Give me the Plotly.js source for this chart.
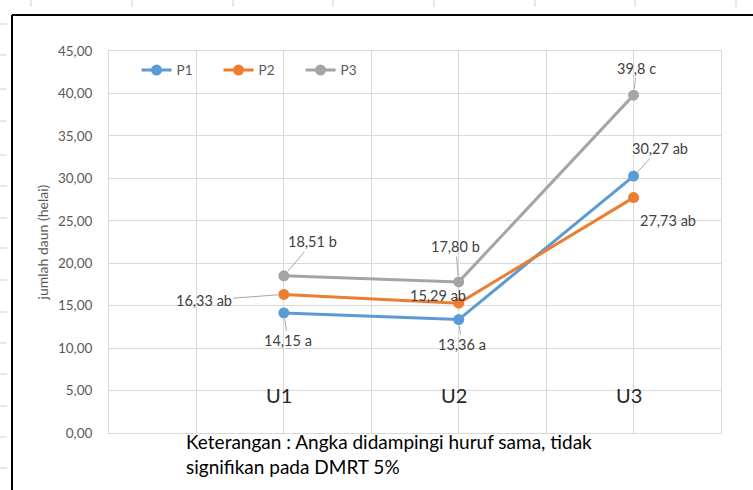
<!DOCTYPE html>
<html>
<head>
<meta charset="utf-8">
<script src="https://cdn.plot.ly/plotly-3.0.1.min.js"></script>
<style>html,body{margin:0;padding:0;background:#fff;}#chart{width:753px;height:490px;}</style>
</head>
<body>
<div id="chart"></div>
<script>
// ---- data ----
const categories = ["U1", "U2", "U3"];
const categoryPos = [2, 4, 6];
const seriesNames = ["P1", "P2", "P3"];
const p1Values = [14.15, 13.36, 30.27];
const p2Values = [16.33, 15.29, 27.73];
const p3Values = [18.51, 17.80, 39.8];
const p1Labels = ["14,15 a", "13,36 a", "30,27 ab"];
const p2Labels = ["16,33 ab", "15,29 ab", "27,73 ab"];
const p3Labels = ["18,51 b", "17,80 b", "39,8 c"];
const yTicks = [0, 5, 10, 15, 20, 25, 30, 35, 40, 45];
const noteText = "Keterangan : Angka didampingi huruf sama, tidak<br>signifikan pada DMRT 5%";
const yTitle = "jumlah daun (helai)";

// ---- styling ----
const FONT = "Lato, 'Open Sans', sans-serif";
const colors = ["#5B9BD5", "#ED7D31", "#A5A5A5"];
const allValues = [p1Values, p2Values, p3Values];
const allLabels = [p1Labels, p2Labels, p3Labels];

const traces = allValues.map((vals, i) => ({
  type: "scatter",
  mode: "lines+markers",
  name: seriesNames[i],
  x: categoryPos,
  y: vals,
  line: {color: colors[i], width: 3},
  marker: {color: colors[i], size: 11},
  cliponaxis: false
}));

// label placement offsets [series][category]: [ax, ay, showArrow]
const offsets = [
  [[4, 28, true], [3, 25, true], [26, -28, true]],
  [[-80, 6, true], [-21, -8, false], [34, 23, false]],
  [[29, -34, true], [-3, -35, true], [3, -27, true]]
];

const annotations = [];
allValues.forEach((vals, i) => {
  vals.forEach((v, j) => {
    const o = offsets[i][j];
    const a = {
      x: categoryPos[j], y: v, xref: "x", yref: "y",
      text: allLabels[i][j],
      font: {family: FONT, size: 14.5, color: "#404040"}
    };
    if (o[2]) {
      Object.assign(a, {showarrow: true, ax: o[0], ay: o[1], arrowhead: 0,
        arrowwidth: 1, arrowcolor: "#a6a6a6", standoff: 6});
    } else {
      Object.assign(a, {showarrow: false, xshift: o[0], yshift: -o[1]});
    }
    annotations.push(a);
  });
});

categories.forEach((c, j) => {
  annotations.push({
    x: categoryPos[j] - 0.05, y: 4.5, xref: "x", yref: "y", text: c, showarrow: false,
    font: {family: FONT, size: 20, color: "#262626"}
  });
});

annotations.push({
  x: 0.122, y: 0.014, xref: "paper", yref: "paper", xanchor: "left", yanchor: "top",
  align: "left", showarrow: false, text: noteText,
  font: {family: FONT, size: 19, color: "#000000"}
});

annotations.push({
  x: -0.126, y: 0.5, xref: "paper", yref: "paper", textangle: -90, showarrow: false,
  text: yTitle, font: {family: FONT, size: 14, color: "#595959"}
});

// decorative frame and sheet header ticks
const px = p => (p - 109) / 612;
const py = p => (433 - p) / 382;
const shapes = [
  {type: "line", xref: "paper", yref: "paper", x0: px(12), x1: px(12), y0: py(15), y1: py(495), line: {color: "#000", width: 2}},
  {type: "line", xref: "paper", yref: "paper", x0: px(12), x1: px(760), y0: py(15), y1: py(15), line: {color: "#000", width: 2}}
];
const topTicks = [31, 132, 233, 333, 434, 535, 635, 736];
topTicks.forEach(t => shapes.push({type: "line", xref: "paper", yref: "paper",
  x0: px(t), x1: px(t), y0: py(0), y1: py(7), line: {color: "#d0d0d0", width: 1}}));
const leftTicks = [24, 55, 89, 121, 155, 186, 218, 248, 280, 312, 343, 374, 406, 437, 468];
leftTicks.forEach(t => shapes.push({type: "line", xref: "paper", yref: "paper",
  x0: px(0), x1: px(7), y0: py(t), y1: py(t), line: {color: "#d0d0d0", width: 1}}));

const layout = {
  width: 753, height: 490,
  margin: {l: 109, r: 32, t: 51, b: 57},
  paper_bgcolor: "#fff", plot_bgcolor: "#fff",
  separators: ",.",
  font: {family: FONT, color: "#595959"},
  showlegend: true,
  legend: {orientation: "h", x: 0.045, y: 0.99, xanchor: "left", yanchor: "top",
    bgcolor: "rgba(0,0,0,0)", font: {family: FONT, size: 13.5, color: "#595959"},
    entrywidth: 37, entrywidthmode: "pixels"},
  xaxis: {range: [0, 7], dtick: 1, tick0: 0, showticklabels: false, ticks: "",
    showgrid: true, gridcolor: "#d9d9d9", gridwidth: 1, zeroline: false,
    showline: true, linecolor: "#d9d9d9", linewidth: 1, mirror: true, fixedrange: true},
  yaxis: {range: [0, 45], tickvals: yTicks, tickformat: ".2f",
    showgrid: true, gridcolor: "#d9d9d9", gridwidth: 1, zeroline: false,
    showline: true, linecolor: "#d9d9d9", linewidth: 1, mirror: true,
    ticks: "outside", ticklen: 13, tickcolor: "rgba(0,0,0,0)",
    tickfont: {family: FONT, size: 13.5, color: "#595959"}, fixedrange: true},
  annotations: annotations,
  shapes: shapes
};

Plotly.newPlot("chart", traces, layout, {displayModeBar: false, staticPlot: true});
</script>
</body>
</html>
